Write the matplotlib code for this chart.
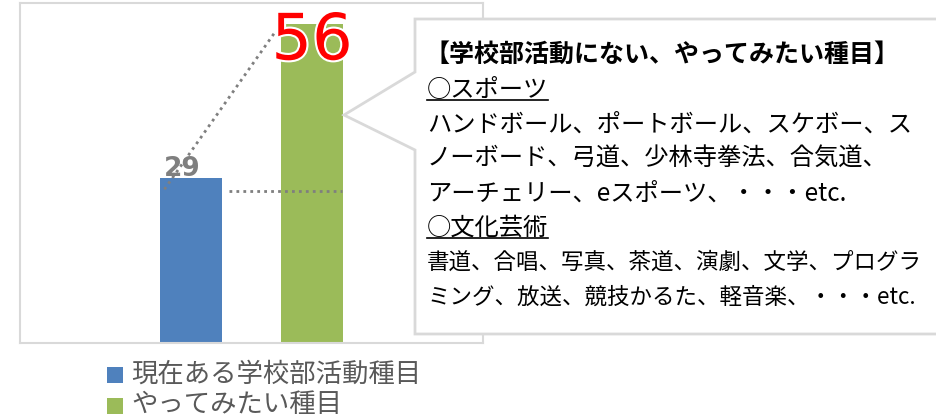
import matplotlib
matplotlib.use("Agg")
import matplotlib.pyplot as plt
import matplotlib.patheffects as pe
from matplotlib.patches import Polygon, Rectangle
from matplotlib.lines import Line2D

plt.rcParams['font.family'] = ['Noto Sans CJK JP', 'DejaVu Sans']

# data
series = ['現在ある学校部活動種目', 'やってみたい種目']
values = [29, 56]
colors = ['#4F81BD', '#9BBB59']

box_title = '【学校部活動にない、やってみたい種目】'
box_lines = ['○スポーツ',
             'ハンドボール、ポートボール、スケボー、ス',
             'ノーボード、弓道、少林寺拳法、合気道、',
             'アーチェリー、eスポーツ、・・・etc.',
             '○文化芸術',
             '書道、合唱、写真、茶道、演劇、文学、プログラ',
             'ミング、放送、競技かるた、軽音楽、・・・etc.']
underlined = [0, 4]

W, H = 937, 420
def fx(p): return p / W
def fy(p): return 1 - p / H

fig = plt.figure(figsize=(W / 100, H / 100), dpi=100)
ax = fig.add_axes([fx(20), fy(343), 463 / W, 340 / H])

xs = [0, 1]
bw = 0.52
ax.bar(xs, values, width=bw, color=colors, zorder=2)
ax.set_xlim(0.5 - 1.913, 0.5 + 1.913)
ax.set_ylim(0, 59.75)
ax.set_xticks([])
ax.set_yticks([])
for s in ax.spines.values():
    s.set_color('#D9D9D9')
    s.set_linewidth(1.5)

# dotted guide lines
dot = dict(color='#7F7F7F', lw=2, linestyle=(0, (1, 1.5)), zorder=3)
ax.plot([xs[0] - bw / 2 + 0.04, xs[1] - bw / 2 - 0.04],
        [values[0] - 2, values[1] - 1.2], **dot)
ax.plot([xs[0] + bw / 2 + 0.05, xs[1] + bw / 2 - 0.01],
        [values[0] - 2.3, values[0] - 2.3], **dot)

# value labels
ax.text(xs[0] - 0.07, values[0] + 1.5, str(values[0]), ha='center', va='center',
        fontsize=19, fontweight='bold', color='#7F7F7F', family='DejaVu Sans', zorder=4)
ax.text(xs[1], values[1] - 3.0, str(values[1]), ha='center', va='center',
        fontsize=46, color='#FF0000', family='DejaVu Sans', zorder=4,
        path_effects=[pe.withStroke(linewidth=3, foreground='white')])

# callout box
pts = [(415, 19), (945, 19), (945, 334), (415, 334), (415, 150), (344, 115), (415, 72)]
fig.patches.append(Polygon([(fx(a), fy(b)) for a, b in pts], closed=True,
                           transform=fig.transFigure, facecolor='white',
                           edgecolor='#D9D9D9', lw=2, zorder=5))

fig.text(fx(425), fy(55), box_title, fontsize=18, fontweight='bold',
         va='center', ha='left', zorder=6)
step = (297 - 55) / 7
txts = []
for i, line in enumerate(box_lines):
    size = 16.2 if i >= 5 else 17.5
    t = fig.text(fx(427), fy(55 + (i + 1) * step), line, fontsize=size,
                 va='center', ha='left', zorder=6)
    txts.append(t)

# legend
for i, (lab, c) in enumerate(zip(series, colors)):
    yc = 375 + i * 31
    fig.patches.append(Rectangle((fx(107), fy(yc + 8)), 16 / W, 16 / H,
                                 transform=fig.transFigure, facecolor=c, zorder=6))
    fig.text(fx(131), fy(yc - 1), lab, fontsize=19, color='#595959',
             va='center', ha='left', zorder=6)

# underline the sub headings
fig.canvas.draw()
inv = fig.transFigure.inverted()
for i in underlined:
    bb = txts[i].get_window_extent()
    (x0, y0), (x1, _) = inv.transform([(bb.x0, bb.y0), (bb.x1, bb.y0)])
    fig.lines.append(Line2D([x0, x1], [y0 + 0.006, y0 + 0.006], transform=fig.transFigure,
                            color='black', lw=1.2, zorder=6))

fig.savefig('out.png', dpi=100)
